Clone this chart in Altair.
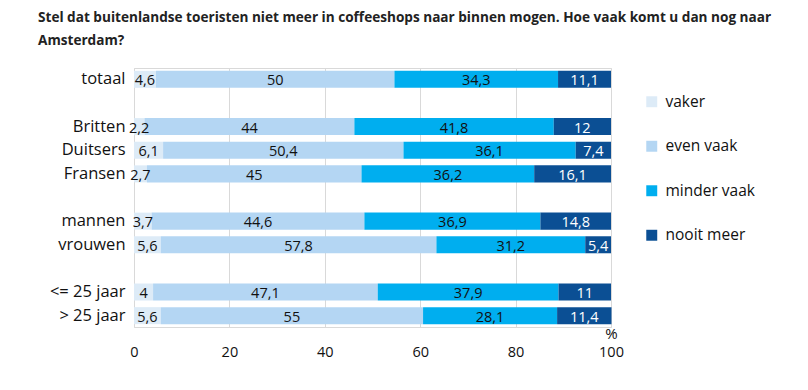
import altair as alt
import pandas as pd

groups = ["totaal", "Britten", "Duitsers", "Fransen", "mannen", "vrouwen", "<= 25 jaar", "> 25 jaar"]
y_order = ["totaal", " ", "Britten", "Duitsers", "Fransen", "  ", "mannen", "vrouwen", "   ", "<= 25 jaar", "> 25 jaar"]
cats = ["vaker", "even vaak", "minder vaak", "nooit meer"]
vaker = [4.6, 2.2, 6.1, 2.7, 3.7, 5.6, 4, 5.6]
even_vaak = [50, 44, 50.4, 45, 44.6, 57.8, 47.1, 55]
minder_vaak = [34.3, 41.8, 36.1, 36.2, 36.9, 31.2, 37.9, 28.1]
nooit_meer = [11.1, 12, 7.4, 16.1, 14.8, 5.4, 11, 11.4]
colors = ["#DDEBF7", "#B4D6F3", "#00AEEF", "#0B4F94"]
x_ticks = [0, 20, 40, 60, 80, 100]

rows = []
for k, (cat, vals) in enumerate(zip(cats, [vaker, even_vaak, minder_vaak, nooit_meer])):
    for g, v in zip(groups, vals):
        rows.append({"group": g, "cat": cat, "k": k, "value": v,
                     "label": (("%g" % v).replace(".", ","))})
df = pd.DataFrame(rows)

FONT = "Open Sans"

base = alt.Chart(df).transform_stack(
    stack="value", groupby=["group"], as_=["x0", "x1"],
    sort=[alt.SortField("k", order="ascending")]
).transform_calculate(mid="(datum.x0 + datum.x1) / 2")

y = alt.Y("group:N", scale=alt.Scale(domain=y_order, paddingInner=0.28, paddingOuter=0.12),
          axis=alt.Axis(title=None, ticks=False, domain=False, labelFontSize=16.5,
                        labelColor="#111", labelFont=FONT, labelPadding=9))

bars = base.mark_bar().encode(
    x=alt.X("x0:Q", scale=alt.Scale(domain=[0, 100], nice=False),
            axis=alt.Axis(values=x_ticks, title="%", titleAnchor="end", titleAngle=0,
                          titleX=477, titleY=6, titleAlign="center", titleBaseline="middle",
                          titleFontSize=15, titleFontWeight="normal", titleFont=FONT, titleColor="#111",
                          labelFontSize=14.5, labelFont=FONT, labelColor="#111", labelPadding=18,
                          labelFlush=False,
                          ticks=False, domain=False, gridColor="#d9d9d9")),
    x2="x1:Q",
    y=y,
    color=alt.Color("cat:N", scale=alt.Scale(domain=cats, range=colors),
                    legend=alt.Legend(title=None, orient="none", legendX=510, legendY=26,
                                      symbolType="square", symbolSize=120, symbolStrokeWidth=0,
                                      labelFontSize=15.5, labelFont=FONT, labelColor="#111",
                                      rowPadding=27.5, labelOffset=6, padding=0)),
    order=alt.Order("k:Q"),
)

text = base.mark_text(fontSize=14.5, font=FONT, dy=2).encode(
    x=alt.X("mid:Q"),
    y=y,
    text="label:N",
    color=alt.condition("datum.k == 3", alt.value("white"), alt.value("#111")),
)

chart = alt.layer(bars, text).properties(
    width=477, height=259,
    autosize="none",
    padding={"left": 126, "top": 60, "right": 189, "bottom": 55},
    title=alt.TitleParams(
        ["Stel dat buitenlandse toeristen niet meer in coffeeshops naar binnen mogen. Hoe vaak komt u dan nog naar",
         "Amsterdam?"],
        anchor="start", frame="group", dx=-96, fontSize=13.6, font=FONT, fontWeight="bold", color="#222",
        lineHeight=23, offset=20),
).configure_view(stroke="#d9d9d9")

chart.save("out.html", embed_options={"renderer": "svg", "actions": False})
